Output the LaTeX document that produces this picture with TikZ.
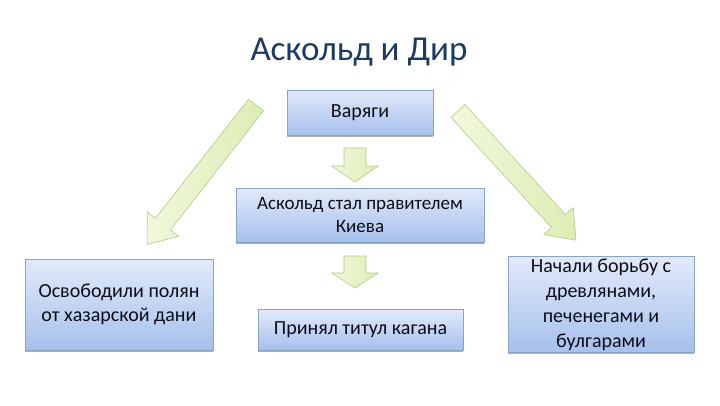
\documentclass[tikz,border=0pt]{standalone}
\usepackage{fontspec}
\setmainfont{Carlito}
\usetikzlibrary{shadows}
\definecolor{boxtop}{HTML}{E2EAF9}
\definecolor{boxbot}{HTML}{A6C0EC}
\definecolor{boxline}{HTML}{8CA2C4}
\definecolor{titlecol}{HTML}{1A3B64}
\definecolor{txt}{HTML}{0D0D1A}
\definecolor{arrfill}{HTML}{DDEDB4}
\definecolor{arrfill2}{HTML}{F1F8DC}
\definecolor{arrline}{HTML}{B4CB85}
\tikzset{
  infobox/.style={draw=boxline, line width=0.6pt, top color=boxtop, bottom color=boxbot,
    drop shadow={shadow xshift=0pt, shadow yshift=-2pt, opacity=0.45, fill=black!70},
    text=txt, align=center, inner sep=2pt, font=\fontsize{20}{24}\selectfont},
  greenarrow/.style={draw=arrline, line width=0.6pt, left color=arrfill2, right color=arrfill},
}
\newcommand\myarrow[6]{% shift x, shift y, angle, length, shaft half width, head length
  \begin{scope}[shift={(#1,#2)}, rotate=#3]
    \path[greenarrow] (0,-#5) -- ({#4-#6},-#5) -- ({#4-#6},{-2.1*#5}) -- (#4,0) -- ({#4-#6},{2.1*#5}) -- ({#4-#6},#5) -- (0,#5) -- cycle;
  \end{scope}}
\begin{document}
\begin{tikzpicture}[x=1pt, y=-1pt]
\useasboundingbox (0,0) rectangle (720,405);
\fill[white] (0,0) rectangle (720,405);
\node[text=titlecol, font=\fontsize{35}{40}\selectfont] (title) at (359,52) {Аскольд и Дир};
\node[infobox, minimum width=146pt, minimum height=45pt] (var) at (360,112.5) {Варяги};
\node[infobox, minimum width=248pt, minimum height=54pt, font=\fontsize{19}{23}\selectfont] (ask) at (360,215) {Аскольд стал правителем\\Киева};
\node[infobox, minimum width=188pt, minimum height=91pt] (osv) at (119,304.5) {Освободили полян\\от хазарской дани};
\node[infobox, minimum width=205pt, minimum height=41pt] (pri) at (360.5,329.5) {Принял титул кагана};
\node[infobox, minimum width=186pt, minimum height=91pt, font=\fontsize{20}{25}\selectfont] (nach) at (601,304.5) {Начали борьбу с\\древлянами,\\печенегами и\\булгарами};
% down arrows
\myarrow{355}{148}{-90}{34}{11}{16}
\myarrow{355}{256}{-90}{32}{11}{15}
% diagonal arrows
\myarrow{256}{105}{-128}{177}{9.5}{26}
\myarrow{458}{111}{-47.6}{175}{9.5}{26}
\end{tikzpicture}
\end{document}
